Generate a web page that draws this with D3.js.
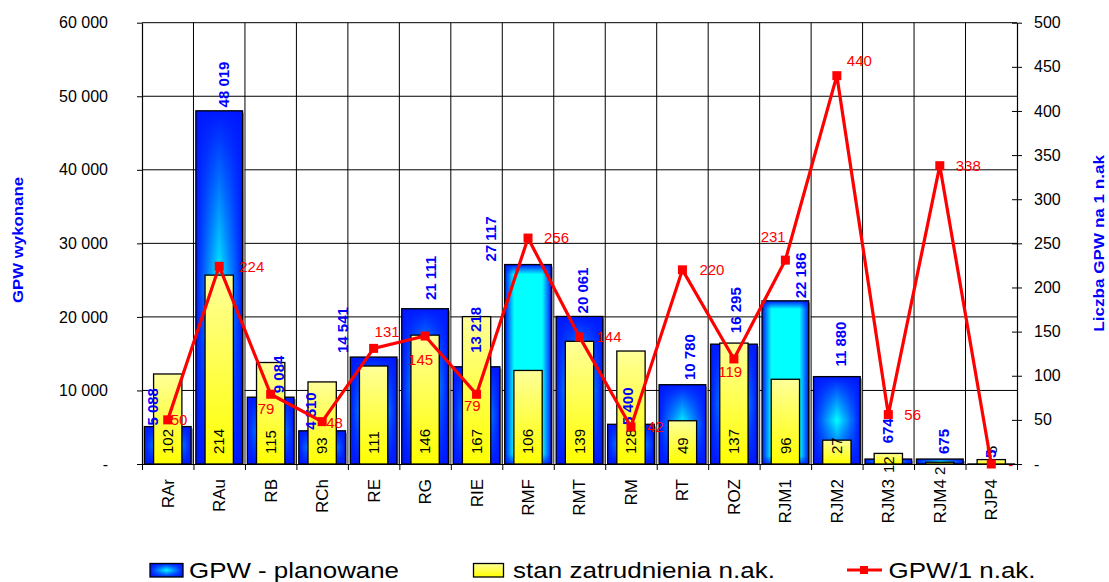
<!DOCTYPE html>
<html><head><meta charset="utf-8">
<script src="https://cdn.jsdelivr.net/npm/d3@7"></script>
<style>
html,body{margin:0;padding:0;background:#fff;}
svg{display:block;}
text{font-family:Arial,"Liberation Sans",sans-serif;}
</style>
</head><body>
<svg id="chart" width="1109" height="582"></svg>
<script>
// ---------- data ----------
const categories = ["RAr","RAu","RB","RCh","RE","RG","RIE","RMF","RMT","RM","RT","ROZ","RJM1","RJM2","RJM3","RJM4","RJP4"];
const gpwPlanned = [5088,48019,9084,4510,14541,21111,13218,27117,20061,5400,10780,16295,22186,11880,674,675,5];
const employment = [102,214,115,93,111,146,167,106,139,128,49,137,96,27,12,2,5];
const gpwPerEmployee = [50,224,79,48,131,145,79,256,144,42,220,119,231,440,56,338,0];
const leftTicks = [0,10000,20000,30000,40000,50000,60000];
const rightTicks = [0,50,100,150,200,250,300,350,400,450,500];
const seriesNames = ["GPW - planowane","stan zatrudnienia n.ak.","GPW/1 n.ak."];
const leftAxisTitle = "GPW wykonane";
const rightAxisTitle = "Liczba GPW na 1 n.ak";

// ---------- label placement tweaks (layout only) ----------
const blueLabelShift = {RAr:[-14.7,1],RAu:[5,3.4],RB:[8.3,4],RCh:[-11.4,1],RE:[-31,4],RG:[6,8.7],RIE:[-1.3,14],
  RMF:[-37,3],RMT:[3,3],RM:[-3.5,-0.7],RT:[7.6,4.7],ROZ:[2.2,11],RJM1:[15.4,2.5],RJM2:[4,10],RJM3:[-0.8,15.7],RJM4:[4.4,5],RJP4:[-0.4,6]};
const redLabelShift = {RAr:[3,0],RAu:[20,0],RB:[-13,14],RCh:[4,1],RE:[1,-17],RG:[-17,24],RIE:[-12.6,11],RMF:[16,0],
  RMT:[17,0],RM:[16,0],RT:[17,0],ROZ:[-15.6,13],RJM1:[-24.7,-23],RJM2:[10,-15],RJM3:[16,0],RJM4:[16,0],RJP4:[17,1]};
const yellowLabelShift = {RJM3:19,RJM4:21};
const highlighted = new Set(["RMF","RJM1"]);

// ---------- setup ----------
const L=142, R=1017, T=22.7, B=464;
const svg = d3.select("#chart");
const loc = d3.formatLocale({decimal:",",thousands:" ",grouping:[3],currency:["",""]});
const fmt = v => v===0 ? "-" : loc.format(",")(v);

const x = d3.scaleBand().domain(categories).range([L,R]).padding(0);
const xi = d3.scaleLinear().domain([0,categories.length]).range([L,R]);
const yL = d3.scaleLinear().domain([0,60000]).range([B,T]);
const yR = d3.scaleLinear().domain([0,500]).range([B,T]);
const bw = x.bandwidth();
const cx = c => x(c)+bw/2;

// ---------- gradients ----------
const defs = svg.append("defs");
const BLUE="#0018ff", CYAN="#00ffff";
function lin(id, horiz, stops){
  const g = defs.append("linearGradient").attr("id",id)
    .attr("x1",0).attr("y1",0).attr("x2",horiz?1:0).attr("y2",horiz?0:1);
  stops.forEach(s=>g.append("stop").attr("offset",s[0]).attr("stop-color",s[1]).attr("stop-opacity",s[2]===undefined?1:s[2]));
}
lin("bH",true,[[0,BLUE],[0.5,CYAN],[1,BLUE]]);
lin("bV",false,[[0,BLUE,1],[0.5,BLUE,0],[1,BLUE,1]]);
lin("hH",true,[[0,BLUE],[0.2,CYAN],[0.8,CYAN],[1,BLUE]]);
lin("hV",false,[[0,BLUE,1],[0.05,BLUE,0],[0.95,BLUE,0],[1,BLUE,0.8]]);
lin("yG",false,[[0,"#ffff99"],[1,"#ffff00"]]);

// ---------- grid ----------
const grid = svg.append("g");
grid.selectAll("line.h").data(leftTicks.filter(t=>t>0)).join("line")
  .attr("x1",L).attr("x2",R).attr("y1",d=>yL(d)).attr("y2",d=>yL(d))
  .attr("stroke","#000").attr("stroke-width",1);
grid.selectAll("line.v").data(d3.range(1,categories.length)).join("line")
  .attr("x1",d=>xi(d)).attr("x2",d=>xi(d)).attr("y1",T).attr("y2",B)
  .attr("stroke","#000").attr("stroke-width",1);

// ---------- blue bars ----------
const bbw = bw*0.907;
const blue = svg.append("g");
categories.forEach((c,i)=>{
  const bx = x(c)+(bw-bbw)/2, by = yL(gpwPlanned[i]), h = B-by;
  const hl = highlighted.has(c);
  blue.append("rect").attr("x",bx+2).attr("y",by+2).attr("width",bbw).attr("height",Math.max(0,h-2)).attr("fill","#9a9a9a");
  blue.append("rect").attr("x",bx).attr("y",by).attr("width",bbw).attr("height",h).attr("fill",hl?"url(#hH)":"url(#bH)");
  blue.append("rect").attr("x",bx).attr("y",by).attr("width",bbw).attr("height",h).attr("fill",hl?"url(#hV)":"url(#bV)")
    .attr("stroke","#000").attr("stroke-width",1.3);
});

// ---------- yellow bars ----------
const ybw = bw*0.55;
svg.append("g").selectAll("rect").data(categories).join("rect")
  .attr("x",c=>x(c)+(bw-ybw)/2).attr("y",(c,i)=>yR(employment[i]))
  .attr("width",ybw).attr("height",(c,i)=>B-yR(employment[i]))
  .attr("fill","url(#yG)").attr("stroke","#000").attr("stroke-width",1.3);

// ---------- axes ----------
const axL = svg.append("g").attr("transform",`translate(${L},0)`)
  .call(d3.axisLeft(yL).tickValues(leftTicks).tickSize(5).tickSizeOuter(0).tickPadding(29).tickFormat(fmt));
const axR = svg.append("g").attr("transform",`translate(${R},0)`)
  .call(d3.axisRight(yR).tickValues(rightTicks).tickSize(5).tickSizeOuter(0).tickPadding(12).tickFormat(fmt));
axR.selectAll(".tick line").attr("x1",-5);
const axB = svg.append("g").attr("transform",`translate(0,${B})`)
  .call(d3.axisBottom(xi).tickValues(d3.range(0,categories.length+1)).tickSize(6).tickSizeOuter(0).tickFormat(""));
[axL,axR,axB].forEach(a=>{
  a.selectAll("path.domain").attr("stroke","#000").attr("stroke-width",1.2);
  a.selectAll(".tick line").attr("stroke","#000");
  a.selectAll("text").attr("font-size",16).attr("fill","#000").attr("font-family",'Arial,"Liberation Sans",sans-serif');
});

// category labels
svg.append("g").selectAll("text").data(categories).join("text")
  .attr("transform",c=>`translate(${cx(c)},479) rotate(-90)`)
  .attr("text-anchor","end").attr("dy","0.35em").attr("font-size",17).text(c=>c);

// ---------- labels: yellow ----------
svg.append("g").selectAll("text").data(categories).join("text")
  .attr("transform",c=>`translate(${cx(c)},${B-10+(yellowLabelShift[c]||0)}) rotate(-90)`)
  .attr("text-anchor","start").attr("dy","0.35em").attr("font-size",15).attr("fill","#000")
  .text((c,i)=>fmt(employment[i]));

// ---------- labels: blue ----------
svg.append("g").selectAll("text").data(categories).join("text")
  .attr("transform",(c,i)=>{const s=blueLabelShift[c]||[4,4];return `translate(${cx(c)+s[0]},${yL(gpwPlanned[i])-s[1]}) rotate(-90)`;})
  .attr("text-anchor","start").attr("dy","0.35em").attr("font-size",15).attr("font-weight","bold").attr("fill","#0000ff")
  .text((c,i)=>fmt(gpwPlanned[i]));

// ---------- line ----------
const line = d3.line().x((d,i)=>cx(categories[i])).y(d=>yR(d));
svg.append("path").datum(gpwPerEmployee).attr("d",line)
  .attr("fill","none").attr("stroke","#ff0000").attr("stroke-width",3.2).attr("stroke-linejoin","miter");
svg.append("g").selectAll("rect").data(gpwPerEmployee).join("rect")
  .attr("x",(d,i)=>cx(categories[i])-4.5).attr("y",d=>yR(d)-4.5).attr("width",9).attr("height",9).attr("fill","#ff0000");
svg.append("g").selectAll("text").data(gpwPerEmployee).join("text")
  .attr("x",(d,i)=>cx(categories[i])+(redLabelShift[categories[i]]||[16,0])[0])
  .attr("y",(d,i)=>yR(d)+(redLabelShift[categories[i]]||[16,0])[1])
  .attr("dy","0.35em").attr("font-size",15).attr("fill","#ff0000").text(d=>fmt(d));

// ---------- axis titles ----------
svg.append("text").attr("transform","translate(18.3,240) rotate(-90)").attr("text-anchor","middle").attr("dy","0.35em")
  .attr("font-size",14.5).attr("font-weight","bold").attr("fill","#0000ff")
  .attr("textLength",126).attr("lengthAdjust","spacingAndGlyphs").text(leftAxisTitle);
svg.append("text").attr("transform","translate(1099,243.3) rotate(-90)").attr("text-anchor","middle").attr("dy","0.35em")
  .attr("font-size",15).attr("font-weight","bold").attr("fill","#0000ff")
  .attr("textLength",176.7).attr("lengthAdjust","spacingAndGlyphs").text(rightAxisTitle);

// ---------- legend ----------
const lg = svg.append("g");
lg.append("rect").attr("x",150).attr("y",563.5).attr("width",33).attr("height",13.5).attr("fill","url(#bH)");
lg.append("rect").attr("x",150).attr("y",563.5).attr("width",33).attr("height",13.5).attr("fill","url(#bV)").attr("stroke","#000").attr("stroke-width",1.3);
lg.append("text").attr("x",189).attr("y",577.5).attr("font-size",21.5).attr("textLength",210).attr("lengthAdjust","spacingAndGlyphs").text(seriesNames[0]);
lg.append("rect").attr("x",473.5).attr("y",563.5).attr("width",30).attr("height",13.5).attr("fill","url(#yG)").attr("stroke","#000").attr("stroke-width",1.3);
lg.append("text").attr("x",513).attr("y",577.5).attr("font-size",21.5).attr("textLength",262).attr("lengthAdjust","spacingAndGlyphs").text(seriesNames[1]);
lg.append("line").attr("x1",847).attr("x2",882).attr("y1",570).attr("y2",570).attr("stroke","#ff0000").attr("stroke-width",3.2);
lg.append("rect").attr("x",860).attr("y",566).attr("width",8).attr("height",8).attr("fill","#ff0000");
lg.append("text").attr("x",888.5).attr("y",577.5).attr("font-size",21.5).attr("textLength",147).attr("lengthAdjust","spacingAndGlyphs").text(seriesNames[2]);
</script>
</body></html>
